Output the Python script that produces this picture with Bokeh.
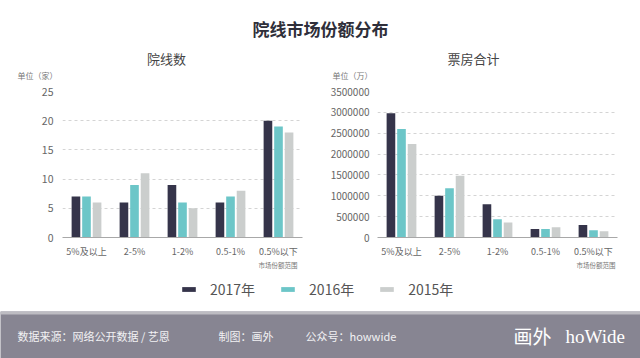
from bokeh.plotting import figure
from bokeh.layouts import column, row
from bokeh.models import (Label, Legend, LegendItem, Range1d, FactorRange, Span,
                          ColumnDataSource, BasicTickFormatter, FixedTicker)
from bokeh.transform import dodge
from bokeh.embed import file_html
from bokeh.resources import INLINE

# ---------------- data ----------------
categories = ["5%及以上", "2-5%", "1-2%", "0.5-1%", "0.5%以下"]
years = ["2017年", "2016年", "2015年"]
colors = ["#35344a", "#6cc6c8", "#cbcecd"]

cinemas_2017 = [7, 6, 9, 6, 20]
cinemas_2016 = [7, 9, 6, 7, 19]
cinemas_2015 = [6, 11, 5, 8, 18]

box_2017 = [2980000, 1000000, 800000, 205000, 300000]
box_2016 = [2600000, 1180000, 440000, 205000, 175000]
box_2015 = [2240000, 1480000, 360000, 245000, 150000]

cinema_ticks = [0, 5, 10, 15, 20, 25]
box_ticks = [0, 500000, 1000000, 1500000, 2000000, 2500000, 3000000, 3500000]

title_text = "院线市场份额分布"
left_title = "院线数"
right_title = "票房合计"
left_unit = "单位（家）"
right_unit = "单位（万）"
x_note = "市场份额范围"
footer_source = "数据来源：网络公开数据 / 艺恩"
footer_maker = "制图：画外"
footer_account = "公众号：howwide"

FONT = "Noto Sans CJK SC"
W = 640


def blank(height, bg="white", yr=(0, 1)):
    p = figure(width=W, height=height, x_range=Range1d(0, 1), y_range=Range1d(*yr),
               x_axis_type=None, y_axis_type=None, toolbar_location=None,
               output_backend="svg", min_border_left=0, min_border_right=0,
               min_border_top=0, min_border_bottom=0)
    p.outline_line_color = None
    p.grid.visible = False
    p.background_fill_color = bg
    p.border_fill_color = bg
    return p


def txt(p, x, y, text, size, color="#777777", align="left", font=FONT, style="normal"):
    p.add_layout(Label(x=x, y=y, x_units="screen", y_units="screen", text=text,
                       text_align=align, text_baseline="middle", text_font=font,
                       text_font_size=size, text_color=color, text_font_style=style))


def chart(series, ymax, ticks, left_border, right_border, ysize, ystand):
    p = figure(width=320, height=178,
               x_range=FactorRange(*categories, range_padding=0),
               y_range=Range1d(0, ymax),
               toolbar_location=None, output_backend="svg",
               min_border_left=left_border, min_border_right=right_border,
               min_border_top=9, min_border_bottom=22)
    p.outline_line_color = None
    p.background_fill_color = "white"
    p.border_fill_color = "white"
    p.xgrid.grid_line_color = None
    p.ygrid.grid_line_color = "#d4d4d4"
    p.ygrid.grid_line_dash = "3 3"
    p.ygrid.ticker = FixedTicker(ticks=ticks)

    for ax in (p.xaxis, p.yaxis):
        ax.major_tick_line_color = None
        ax.minor_tick_line_color = None
        ax.major_tick_out = 0
        ax.major_tick_in = 0
        ax.minor_tick_out = 0
        ax.minor_tick_in = 0
        ax.major_label_text_font = FONT
        ax.major_label_text_color = "#666666"

    p.yaxis.ticker = FixedTicker(ticks=ticks)
    p.yaxis.formatter = BasicTickFormatter(use_scientific=False)
    p.yaxis.axis_line_color = None
    p.yaxis.major_label_standoff = ystand
    p.yaxis.major_label_text_font_size = ysize

    p.xaxis.axis_line_color = "#a8a8a8"
    p.xaxis.axis_line_width = 1
    p.xaxis.major_label_standoff = 7
    p.xaxis.major_label_text_font_size = "9px"

    offsets = [-0.22, 0.0, 0.22]
    for vals, off, c in zip(series, offsets, colors):
        src = ColumnDataSource(dict(cat=categories, val=vals))
        p.vbar(x=dodge("cat", off, range=p.x_range), top="val", width=0.18,
               source=src, fill_color=c, line_color=None)
    return p


# ---------------- header (title, subtitles, units) ----------------
header = blank(82)
txt(header, 320, 54, title_text, "17px", "#2f2f3a", "center", style="bold")
txt(header, 166, 24, left_title, "13px", "#444444", "center")
txt(header, 473, 24, right_title, "13px", "#444444", "center")
txt(header, 17, 7, left_unit, "8px", "#777777")
txt(header, 332, 7, right_unit, "8px", "#777777")

# ---------------- charts ----------------
left = chart([cinemas_2017, cinemas_2016, cinemas_2015], 25, cinema_ticks, 62, 18, "10.5px", 9)
right = chart([box_2017, box_2016, box_2015], 3500000, box_ticks, 57, 23, "10px", 8)

# ---------------- notes + legend ----------------
leg_fig = blank(51)
txt(leg_fig, 297, 47, x_note, "6.5px", "#777777", "right")
txt(leg_fig, 615, 47, x_note, "6.5px", "#777777", "right")
items = []
for y, c in zip(years, colors):
    r = leg_fig.vbar(x=[5], top=[0.5], width=0.1, fill_color=c, line_color=None)
    items.append(LegendItem(label=y, renderers=[r]))
legend = Legend(items=items, orientation="horizontal", location=(180, 12),
                glyph_width=17, glyph_height=6, label_standoff=13, spacing=24,
                padding=0, margin=0, border_line_color=None, background_fill_alpha=0,
                label_text_font=FONT, label_text_font_size="14px",
                label_text_color="#555555", label_height=20)
leg_fig.add_layout(legend, "center")

# ---------------- footer ----------------
footer = blank(47, bg="#878592", yr=(0, 47))
footer.add_layout(Span(location=45.5, dimension="width", line_color="#bdbcc2", line_width=3))
for t, xx in [(footer_source, 17), (footer_maker, 218), (footer_account, 305)]:
    txt(footer, xx, 23, t, "11px", "#f2f2f4")
txt(footer, 513, 23, "画外", "19px", "#ffffff")
txt(footer, 565, 22, "hoWide", "19px", "#ffffff", font="Liberation Serif")

layout = column(header, row(left, right), leg_fig, footer)

open("out.html", "w").write(file_html(layout, INLINE))
